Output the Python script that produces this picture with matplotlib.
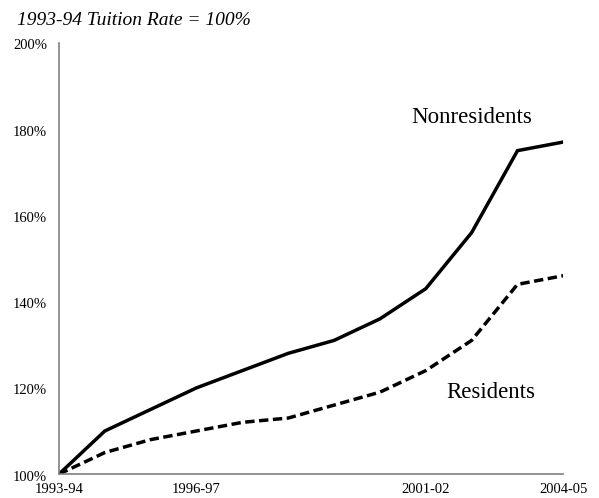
import matplotlib
matplotlib.use("Agg")
import matplotlib.pyplot as plt
import matplotlib.transforms as mtransforms

years = ["1993-94", "1994-95", "1995-96", "1996-97", "1997-98", "1998-99",
         "1999-00", "2000-01", "2001-02", "2002-03", "2003-04", "2004-05"]
nonresidents = [100, 110, 115, 120, 124, 128, 131, 136, 143, 156, 175, 177]
residents = [100, 105, 108, 110, 112, 113, 116, 119, 124, 131, 144, 146]
shown_ticks = ["1993-94", "1996-97", "2001-02", "2004-05"]
y_ticks = [100, 120, 140, 160, 180, 200]

plt.rcParams['font.family'] = ['Liberation Serif', 'DejaVu Serif']

fig = plt.figure(figsize=(5.99, 4.98), dpi=100)
ax = fig.add_axes([0.0985, 0.048, 0.842, 0.866])

x = list(range(len(years)))
ax.plot(x, nonresidents, color='black', lw=2.5, solid_joinstyle='miter')
ax.plot(x, residents, color='black', lw=2.5, linestyle=(0, (2.7, 1.3)))

ax.set_xlim(0, len(years) - 1)
ax.set_ylim(100, 200)
ax.set_yticks(y_ticks)
ax.set_yticklabels([f"{v}%" for v in y_ticks], fontsize=10.5)
ticks_idx = [years.index(t) for t in shown_ticks]
ax.set_xticks(ticks_idx)
ax.set_xticklabels(shown_ticks, fontsize=10.5)
ax.tick_params(axis='both', length=0)
ax.tick_params(axis='x', pad=6.5)
ax.tick_params(axis='y', pad=8.5)
shift = mtransforms.ScaledTranslation(0, -3 / 100, fig.dpi_scale_trans)
for lab in ax.get_yticklabels():
    lab.set_verticalalignment('center')
    lab.set_transform(lab.get_transform() + shift)

for s in ['top', 'right']:
    ax.spines[s].set_visible(False)
for s in ['left', 'bottom']:
    ax.spines[s].set_color('#808080')
    ax.spines[s].set_linewidth(1.2)

ax.text(9.01, 182.6, "Nonresidents", fontsize=16.5, ha='center', va='center')
ax.text(9.41, 119.0, "Residents", fontsize=16.5, ha='center', va='center')

fig.text(0.028, 0.958, "1993-94 Tuition Rate = 100%", fontsize=14,
         style='italic', ha='left', va='center')

fig.savefig("out.png", dpi=100)
